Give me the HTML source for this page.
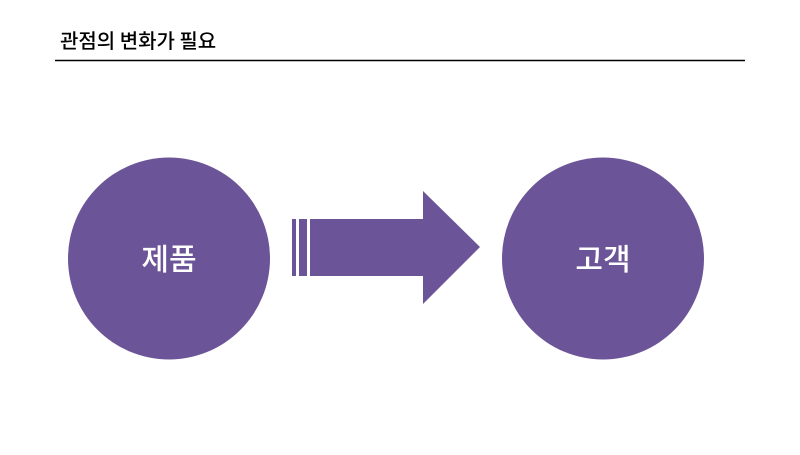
<!DOCTYPE html>
<html><head><meta charset="utf-8"><style>
body{margin:0;width:800px;height:450px;background:#fff;overflow:hidden;font-family:"Liberation Sans","Noto Sans CJK KR",sans-serif}
</style></head><body>
<svg width="800" height="450" xmlns="http://www.w3.org/2000/svg">
<text x="60" y="48" font-size="20" font-weight="500" fill="#000" font-family="Noto Sans CJK KR, sans-serif">관점의 변화가 필요</text>
<line x1="55" y1="60.5" x2="745" y2="60.5" stroke="#000" stroke-width="1.5"/>
<circle cx="169" cy="258.5" r="101" fill="#6b5497"/>
<circle cx="603" cy="258.5" r="101" fill="#6b5497"/>
<rect x="292" y="219" width="4" height="57" fill="#6b5497"/>
<rect x="299" y="219" width="8" height="57" fill="#6b5497"/>
<polygon points="310,219 423,219 423,191 480,247 423,304 423,276 310,276" fill="#6b5497"/>
<text x="169" y="270" font-size="30" font-weight="500" fill="#fff" text-anchor="middle" font-family="Noto Sans CJK KR, sans-serif">제품</text>
<text x="603" y="270" font-size="30" font-weight="500" fill="#fff" text-anchor="middle" font-family="Noto Sans CJK KR, sans-serif">고객</text>
</svg>
</body></html>
